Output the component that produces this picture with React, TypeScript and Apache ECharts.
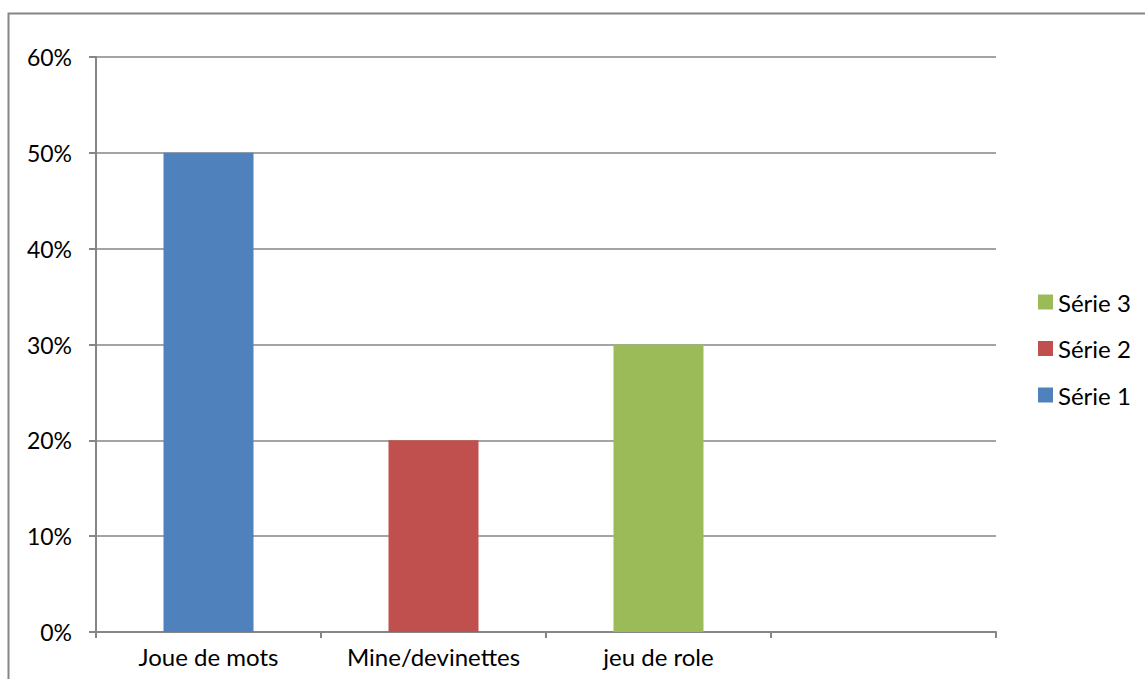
import React, { useEffect, useRef } from "react";
import * as echarts from "echarts";

const categories = ["Joue de mots", "Mine/devinettes", "jeu de role", ""];
const seriesNames = ["Série 1", "Série 2", "Série 3"];
const serie1 = [0.5, null, null, null];
const serie2 = [null, 0.2, null, null];
const serie3 = [null, null, 0.3, null];
const colors = ["#4F81BD", "#C0504D", "#9BBB59"];
const yTicks = [0, 0.1, 0.2, 0.3, 0.4, 0.5, 0.6];

const FONT = "Lato";

export default function App() {
  const ref = useRef<HTMLDivElement>(null);
  useEffect(() => {
    if (!ref.current) return;
    const chart = echarts.init(ref.current, null, { renderer: "svg" });
    const values = [serie1, serie2, serie3];
    chart.setOption({
      animation: false,
      textStyle: { fontFamily: FONT },
      graphic: [
        {
          type: "rect",
          shape: { x: 8.5, y: 13.5, width: 1200, height: 800 },
          style: { fill: "none", stroke: "#868686", lineWidth: 2 },
          silent: true,
        },
      ],
      grid: { left: 96, right: 149, top: 57, bottom: 47 },
      legend: {
        data: [seriesNames[2], seriesNames[1], seriesNames[0]],
        orient: "vertical",
        left: 1038,
        top: 290,
        padding: 0,
        itemWidth: 15,
        itemHeight: 15,
        itemGap: 22.5,
        icon: "rect",
        textStyle: { fontFamily: FONT, fontSize: 24, color: "#000" },
      },
      xAxis: {
        type: "category",
        data: categories,
        axisLine: { lineStyle: { color: "#868686", width: 2 } },
        axisTick: { show: true, length: 6, lineStyle: { color: "#868686", width: 2 } },
        axisLabel: { fontFamily: FONT, fontSize: 24, color: "#000", margin: 12, interval: 0 },
      },
      yAxis: {
        type: "value",
        min: 0,
        max: yTicks[yTicks.length - 1],
        interval: 0.1,
        axisLine: { show: true, lineStyle: { color: "#868686", width: 2 } },
        axisTick: { show: true, length: 7, lineStyle: { color: "#868686", width: 2 } },
        splitLine: { lineStyle: { color: "#868686", width: 1.5 } },
        axisLabel: {
          fontFamily: FONT,
          fontSize: 23,
          color: "#000",
          margin: 24,
          formatter: (v: number) => Math.round(v * 100) + "%",
        },
      },
      series: values.map((d, i) => ({
        name: seriesNames[i],
        type: "bar",
        stack: "all",
        data: d,
        barWidth: 90,
        itemStyle: { color: colors[i] },
      })),
    });
    return () => chart.dispose();
  }, []);
  return (
    <div
      ref={ref}
      style={{ position: "fixed", left: 0, top: 0, width: 1145, height: 679, background: "#fff" }}
    />
  );
}
